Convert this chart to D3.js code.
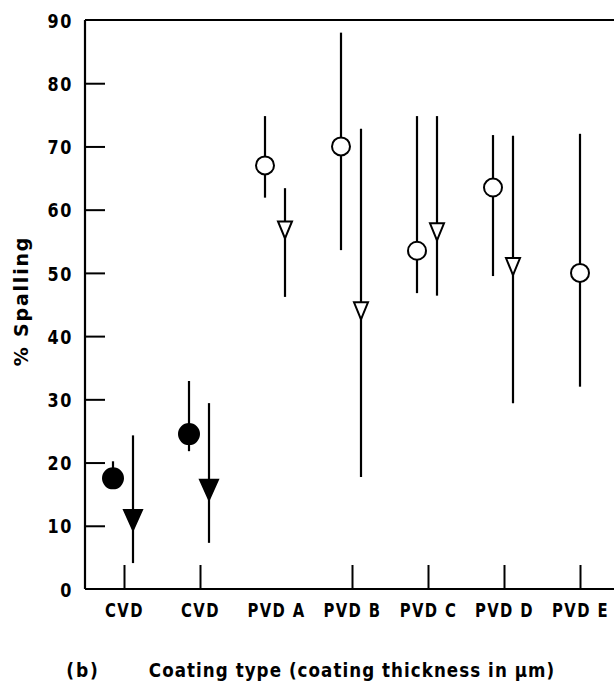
<!DOCTYPE html>
<html>
<head>
<meta charset="utf-8">
<script src="https://cdn.jsdelivr.net/npm/d3@7"></script>
<style>
  html, body { margin: 0; padding: 0; background: #fff; }
  svg { display: block; }
  text { fill: #000; font-family: "DejaVu Sans", "Liberation Sans", sans-serif; }
</style>
</head>
<body>
<svg id="chart" width="615" height="683"></svg>
<script>
// ---- data ----
const categories = ["CVD1", "CVD2", "PVD A", "PVD B", "PVD C", "PVD D", "PVD E"];
const categoryLabels = ["CVD", "CVD", "PVD A", "PVD B", "PVD C", "PVD D", "PVD E"];
const tickedCategories = ["CVD1", "CVD2", "PVD B", "PVD C", "PVD D", "PVD E"];
const filledCategories = ["CVD1", "CVD2"];
const yTicks = [0, 10, 20, 30, 40, 50, 60, 70, 80, 90];

// circle series: value, lower, upper
const circleValue = [17.5, 24.5, 67, 70, 53.5, 63.5, 50];
const circleLow   = [16.5, 21.8, 61.9, 53.6, 46.8, 49.5, 32];
const circleHigh  = [20.2, 32.9, 74.8, 88, 74.8, 71.8, 72];

// triangle series: value, lower, upper (null = no measurement)
const triValue = [10.9, 15.7, 56.8, 44, 56.5, 51, null];
const triLow   = [4.1, 7.3, 46.2, 17.7, 46.4, 29.4, null];
const triHigh  = [24.3, 29.4, 63.4, 72.8, 74.8, 71.7, null];

// ---- layout ----
const svg = d3.select("#chart");
const mLeft = 85, mRight = 614, mTop = 20, mBottom = 589;

const x = d3.scalePoint().domain(categories).range([124, 580]);
const y = d3.scaleLinear().domain([0, 90]).range([mBottom, mTop]);

const circOff = -11, triOff = 9;
const sx = 0.8; // horizontal condensing of text

const g = svg.append("g");
g.append("line").attr("x1", mLeft).attr("x2", mRight).attr("y1", mTop).attr("y2", mTop)
  .attr("stroke", "#000").attr("stroke-width", 2);

// y axis
const yAxis = d3.axisLeft(y).tickValues(yTicks).tickSize(-20)
  .tickFormat(d3.format("d"));
const ya = g.append("g").attr("transform", `translate(${mLeft},0)`).call(yAxis);
ya.select(".domain").attr("stroke-width", 2.2).attr("d", `M0,${mBottom}V${mTop}`);
ya.selectAll(".tick line").attr("stroke-width", 2);
ya.selectAll(".tick").filter(d => d === 90 || d === 0).select("line").remove();
ya.selectAll(".tick text").attr("font-size", 20).attr("font-weight", "bold")
  .attr("letter-spacing", 2).attr("text-anchor", "end")
  .attr("x", -12 / sx).attr("dy", "0.36em")
  .attr("transform", `scale(${sx},1)`);

// x axis
const xAxis = d3.axisBottom(x).tickSize(-24).tickPadding(12)
  .tickFormat(d => categoryLabels[categories.indexOf(d)]);
const xa = g.append("g").attr("transform", `translate(0,${mBottom})`).call(xAxis);
xa.select(".domain").attr("stroke-width", 2.2).attr("d", `M${mLeft},0H${mRight}`);
xa.selectAll(".tick line").attr("stroke-width", 2)
  .attr("display", d => tickedCategories.includes(d) ? null : "none");
xa.selectAll(".tick text").attr("font-size", 19).attr("font-weight", "bold")
  .attr("letter-spacing", 1.8).attr("dy", "0.82em")
  .attr("transform", `scale(0.78,1)`);

// axis titles
svg.append("text").attr("transform", `translate(28,301) rotate(-90) scale(1.0,1)`)
  .attr("text-anchor", "middle").attr("font-size", 19).attr("font-weight", "bold")
  .attr("letter-spacing", 1.8).text("% Spalling");
svg.append("text").attr("transform", "translate(83,677) scale(0.9,1)").attr("text-anchor", "middle")
  .attr("font-size", 19).attr("font-weight", "bold").attr("letter-spacing", 2).text("(b)");
svg.append("text").attr("transform", "translate(352,677) scale(0.88,1)").attr("text-anchor", "middle")
  .attr("font-size", 19).attr("font-weight", "bold").attr("letter-spacing", 1.2)
  .text("Coating type (coating thickness in \u00b5m)");

// ---- marks ----
const idx = d3.range(categories.length);
const hasTri = i => triValue[i] !== null;
const cx = i => x(categories[i]) + (hasTri(i) ? circOff : 0);
const tx = i => x(categories[i]) + triOff;
const filled = i => filledCategories.includes(categories[i]);

const marks = svg.append("g");
marks.selectAll(".cbar").data(idx).join("line")
  .attr("x1", cx).attr("x2", cx)
  .attr("y1", i => y(circleHigh[i])).attr("y2", i => y(circleLow[i]))
  .attr("stroke", "#000").attr("stroke-width", 2.2);
marks.selectAll(".tbar").data(idx.filter(hasTri)).join("line")
  .attr("x1", tx).attr("x2", tx)
  .attr("y1", i => y(triHigh[i])).attr("y2", i => y(triLow[i]))
  .attr("stroke", "#000").attr("stroke-width", 2.2);

marks.selectAll(".circ").data(idx).join("circle")
  .attr("cx", cx).attr("cy", i => y(circleValue[i]))
  .attr("r", i => filled(i) ? 10 : 9)
  .attr("fill", i => filled(i) ? "#000" : "#fff")
  .attr("stroke", "#000").attr("stroke-width", 2);

marks.selectAll(".tri").data(idx.filter(hasTri)).join("path")
  .attr("transform", i => `translate(${tx(i)},${y(triValue[i])})`)
  .attr("d", i => {
    const w = filled(i) ? 9 : 7, h = filled(i) ? 10 : 8.5;
    return `M${-w},${-h}L${w},${-h}L0,${h}Z`;
  })
  .attr("fill", i => filled(i) ? "#000" : "#fff")
  .attr("stroke", "#000").attr("stroke-width", 2).attr("stroke-linejoin", "miter");
</script>
</body>
</html>
